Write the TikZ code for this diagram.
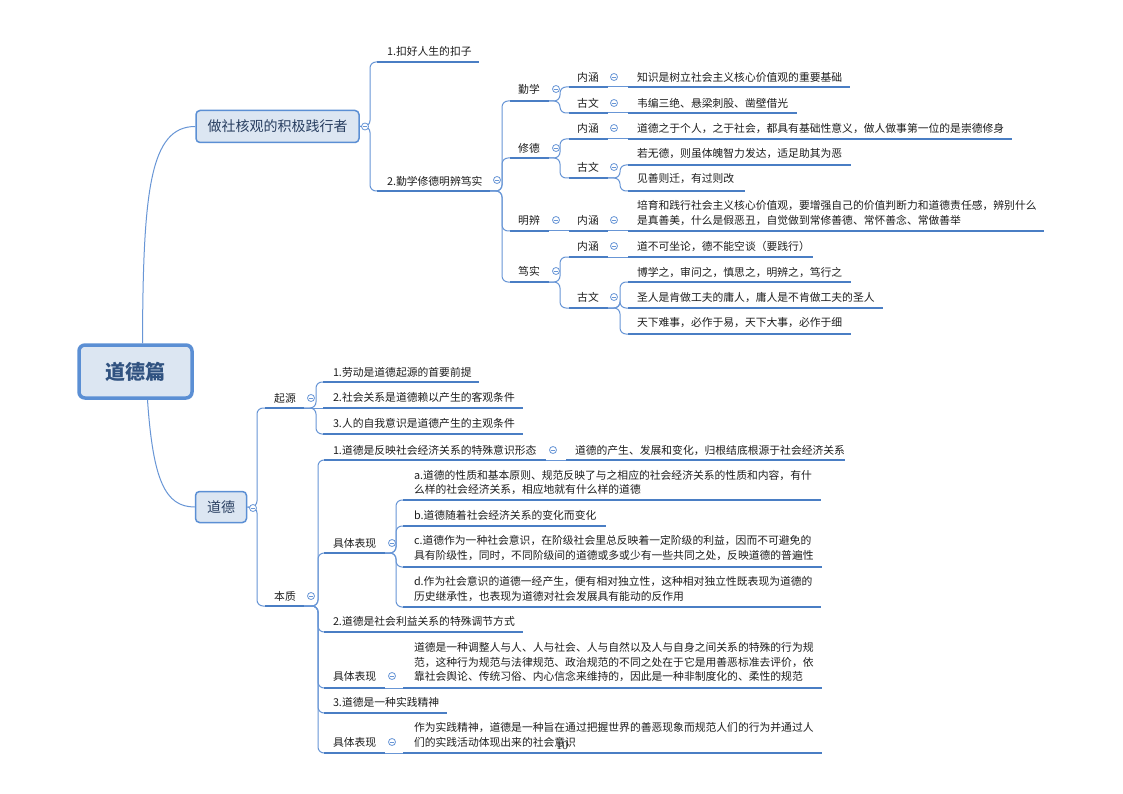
\documentclass[tikz,border=0pt]{standalone}
\usepackage{fontspec}
\setmainfont{Noto Sans CJK SC}
\newfontfamily\numfont{Liberation Serif}
\usetikzlibrary{calc}
\definecolor{ulc}{RGB}{74,126,196}
\definecolor{connc}{RGB}{104,150,214}
\definecolor{boxfill}{RGB}{220,230,242}
\definecolor{boxdraw}{RGB}{91,143,212}
\definecolor{txtc}{RGB}{30,30,30}
\definecolor{boxtxt}{RGB}{40,62,96}
\definecolor{roottxt}{RGB}{48,82,128}
\tikzset{
  txt/.style={anchor=west, inner sep=0pt, outer sep=0pt, font=\fontsize{10.8}{14.5}\selectfont, text=txtc, align=left},
  ctxt/.style={txt, anchor=center},
  uline/.style={draw=ulc, line width=2.6pt},
  conn/.style={draw=connc, line width=1pt},
  tog/.style={circle, draw=connc, fill=white, line width=0.8pt, minimum size=7pt, inner sep=0pt,
    path picture={\draw[connc, line width=0.7pt] ([xshift=-1.8pt]path picture bounding box.center) -- ([xshift=1.8pt]path picture bounding box.center);}},
  topicbox/.style={draw=boxdraw, fill=boxfill, rounded corners=4pt, line width=1.5pt, text=boxtxt, inner sep=0pt}
}
\newcommand\ulnode[7]{% name, text x, text y, ul left, ul right, ul y, text
  \node[txt] (#1) at (#2,#3) {#7};
  \coordinate (#1-l) at (#4,#6);
  \coordinate (#1-r) at (#5,#6);
}
\newcommand\culnode[7]{%
  \node[ctxt] (#1) at (#2,#3) {#7};
  \coordinate (#1-l) at (#4,#6);
  \coordinate (#1-r) at (#5,#6);
}
\newcommand\branch[3]{\draw[conn, rounded corners=6pt] (#1) -- (#2 |- #1) -- (#2 |- #3) -- (#3);}
\newcommand\ul[1]{\draw[uline] (#1-l) -- (#1-r);}
\begin{document}
\begin{tikzpicture}[x=1pt,y=-1pt]
\fill[white] (0,0) rectangle (1123,794);
\useasboundingbox (0,0) rectangle (1123,794);

% ---------- boxes ----------
\node[topicbox, line width=3.5pt, rounded corners=6pt, minimum width=113pt, minimum height=53pt,
  font=\fontsize{20}{24}\selectfont\bfseries, text=roottxt] (R) at (135.5,371.5) {道德篇};
\node[topicbox, minimum width=163pt, minimum height=32pt, font=\fontsize{14}{16}\selectfont] (T1) at (277.5,126.5) {做社核观的积极践行者};
\node[topicbox, minimum width=51pt, minimum height=31pt, font=\fontsize{14}{16}\selectfont] (B) at (221,507) {道德};

% ---------- spines ----------
\coordinate (s0) at (370,0);
\coordinate (s1) at (502,0);
\coordinate (s2) at (560,0);
\coordinate (s3) at (620,0);
\coordinate (sb) at (257,0);
\coordinate (sq1) at (316,0);
\coordinate (sq2) at (318,0);
\coordinate (se) at (396,0);

% ---------- top part nodes ----------
\ulnode{A1}{387}{51}{377}{479}{62}{1.扣好人生的扣子}
\ulnode{A2}{387}{181}{377}{490}{191}{2.勤学修德明辨笃实}

\culnode{N1}{529}{89}{510}{549}{101}{勤学}
\culnode{N2}{529}{148}{510}{549}{158}{修德}
\culnode{N3}{529}{220}{510}{549}{231}{明辨}
\culnode{N4}{529}{271}{510}{549}{282}{笃实}

\culnode{N11}{588}{77}{569}{608}{87}{内涵}
\culnode{N12}{588}{103}{569}{608}{113}{古文}
\culnode{N21}{588}{128}{569}{608}{139}{内涵}
\culnode{N22}{588}{167}{569}{608}{178}{古文}
\culnode{N31}{588}{220}{569}{608}{231}{内涵}
\culnode{N41}{588}{246}{569}{608}{257}{内涵}
\culnode{N42}{588}{297}{569}{608}{308}{古文}

\ulnode{L111}{637}{77}{628}{850}{87}{知识是树立社会主义核心价值观的重要基础}
\ulnode{L121}{637}{103}{628}{797}{113}{韦编三绝、悬梁刺股、凿壁借光}
\ulnode{L211}{637}{128}{628}{1012}{139}{道德之于个人，之于社会，都具有基础性意义，做人做事第一位的是崇德修身}
\ulnode{L221}{637}{154}{628}{851}{165}{若无德，则虽体魄智力发达，适足助其为恶}
\ulnode{L222}{637}{179}{628}{745}{191}{见善则迁，有过则改}
\ulnode{L311}{637}{213}{628}{1044}{231}{培育和践行社会主义核心价值观，要增强自己的价值判断力和道德责任感，辨别什么\\是真善美，什么是假恶丑，自觉做到常修善德、常怀善念、常做善举}
\ulnode{L411}{637}{246}{628}{813}{257}{道不可坐论，德不能空谈（要践行）}
\ulnode{L421}{637}{272}{628}{851}{282}{博学之，审问之，慎思之，明辨之，笃行之}
\ulnode{L422}{637}{297}{628}{883}{308}{圣人是肯做工夫的庸人，庸人是不肯做工夫的圣人}
\ulnode{L423}{637}{323}{628}{851}{334}{天下难事，必作于易，天下大事，必作于细}

% ---------- bottom part nodes ----------
\culnode{Q1}{285}{398}{265}{304}{408}{起源}
\culnode{Q2}{285}{596}{265}{304}{606}{本质}
\ulnode{Q11}{333}{372}{323}{479}{382}{1.劳动是道德起源的首要前提}
\ulnode{Q12}{333}{397}{323}{523}{408}{2.社会关系是道德赖以产生的客观条件}
\ulnode{Q13}{333}{423}{323}{523}{434}{3.人的自我意识是道德产生的主观条件}

\ulnode{E1}{333}{450}{324}{546}{460}{1.道德是反映社会经济关系的特殊意识形态}
\ulnode{E1L}{575}{450}{566}{845}{460}{道德的产生、发展和变化，归根结底根源于社会经济关系}
\ulnode{E2}{333}{543}{324}{385}{553}{具体表现}
\ulnode{Ea}{414}{482.5}{403}{821}{500}{a.道德的性质和基本原则、规范反映了与之相应的社会经济关系的性质和内容，有什\\么样的社会经济关系，相应地就有什么样的道德}
\ulnode{Eb}{414}{515}{403}{606}{526}{b.道德随着社会经济关系的变化而变化}
\ulnode{Ec}{414}{548}{403}{822}{567}{c.道德作为一种社会意识，在阶级社会里总反映着一定阶级的利益，因而不可避免的\\具有阶级性，同时，不同阶级间的道德或多或少有一些共同之处，反映道德的普遍性}
\ulnode{Ed}{414}{589}{403}{821}{607}{d.作为社会意识的道德一经产生，便有相对独立性，这种相对独立性既表现为道德的\\历史继承性，也表现为道德对社会发展具有能动的反作用}
\ulnode{E3}{333}{621}{324}{523}{632}{2.道德是社会利益关系的特殊调节方式}
\ulnode{E4}{333}{676}{324}{385}{688}{具体表现}
\ulnode{E4L}{414}{662}{403}{822}{688}{道德是一种调整人与人、人与社会、人与自然以及人与自身之间关系的特殊的行为规\\范，这种行为规范与法律规范、政治规范的不同之处在于它是用善恶标准去评价，依\\靠社会舆论、传统习俗、内心信念来维持的，因此是一种非制度化的、柔性的规范}
\ulnode{E5}{333}{702}{324}{447}{713}{3.道德是一种实践精神}
\ulnode{E6}{333}{742}{324}{385}{753}{具体表现}
\ulnode{E6L}{414}{735}{403}{822}{753}{作为实践精神，道德是一种旨在通过把握世界的善恶现象而规范人们的行为并通过人\\们的实践活动体现出来的社会意识}

% ---------- connectors ----------
\draw[conn] ([xshift=7pt]R.north) .. controls (143,190) and (150,126.5) .. (T1.west);
\draw[conn] ([xshift=12pt]R.south) .. controls (153,480) and (165,507) .. (B.west);

\branch{T1.east}{s0}{A1-l}
\branch{T1.east}{s0}{A2-l}
\branch{A2-r}{s1}{N1-l}
\branch{A2-r}{s1}{N2-l}
\branch{A2-r}{s1}{N3-l}
\branch{A2-r}{s1}{N4-l}
\branch{N1-r}{s2}{N11-l}
\branch{N1-r}{s2}{N12-l}
\branch{N2-r}{s2}{N21-l}
\branch{N2-r}{s2}{N22-l}
\draw[conn] (N3-r) -- (N31-l);
\branch{N4-r}{s2}{N41-l}
\branch{N4-r}{s2}{N42-l}
\draw[conn] (N11-r) -- (L111-l);
\draw[conn] (N12-r) -- (L121-l);
\draw[conn] (N21-r) -- (L211-l);
\branch{N22-r}{s3}{L221-l}
\branch{N22-r}{s3}{L222-l}
\draw[conn] (N31-r) -- (L311-l);
\draw[conn] (N41-r) -- (L411-l);
\branch{N42-r}{s3}{L421-l}
\branch{N42-r}{s3}{L422-l}
\branch{N42-r}{s3}{L423-l}

\branch{B.east}{sb}{Q1-l}
\branch{B.east}{sb}{Q2-l}
\branch{Q1-r}{sq1}{Q11-l}
\draw[conn] (Q1-r) -- (Q12-l);
\branch{Q1-r}{sq1}{Q13-l}
\branch{Q2-r}{sq2}{E1-l}
\branch{Q2-r}{sq2}{E2-l}
\branch{Q2-r}{sq2}{E3-l}
\branch{Q2-r}{sq2}{E4-l}
\branch{Q2-r}{sq2}{E5-l}
\branch{Q2-r}{sq2}{E6-l}
\draw[conn] (E1-r) -- (E1L-l);
\branch{E2-r}{se}{Ea-l}
\branch{E2-r}{se}{Eb-l}
\branch{E2-r}{se}{Ec-l}
\branch{E2-r}{se}{Ed-l}
\draw[conn] (E4-r) -- (E4L-l);
\draw[conn] (E6-r) -- (E6L-l);

% ---------- underlines ----------
\foreach \n in {A1,A2,N1,N2,N3,N4,N11,N12,N21,N22,N31,N41,N42,
  L111,L121,L211,L221,L222,L311,L411,L421,L422,L423,
  Q1,Q2,Q11,Q12,Q13,E1,E1L,E2,Ea,Eb,Ec,Ed,E3,E4,E4L,E5,E6,E6L}{\ul{\n}}

% ---------- collapse toggles ----------
\node[tog] (cT1) at (365,126.5) {};
\node[tog] (cA2) at (497,180) {};
\node[tog] (cN1) at (556,89) {};
\node[tog] (cN2) at (556,148) {};
\node[tog] (cN3) at (556,220) {};
\node[tog] (cN4) at (556,271) {};
\node[tog] (cN11) at (614,77) {};
\node[tog] (cN12) at (614,103) {};
\node[tog] (cN21) at (614,128) {};
\node[tog] (cN22) at (614,167) {};
\node[tog] (cN31) at (614,220) {};
\node[tog] (cN41) at (614,246) {};
\node[tog] (cN42) at (614,297) {};
\node[tog] (cB) at (253,508) {};
\node[tog] (cQ1) at (311,398) {};
\node[tog] (cQ2) at (311,596) {};
\node[tog] (cE1) at (553,450) {};
\node[tog] (cE2) at (392,543) {};
\node[tog] (cE4) at (392,676) {};
\node[tog] (cE6) at (392,742) {};

% page number
\node[inner sep=0pt, font=\numfont\fontsize{12}{12}\selectfont, text=black!85] (pg) at (562,746) {10};
\end{tikzpicture}
\end{document}
